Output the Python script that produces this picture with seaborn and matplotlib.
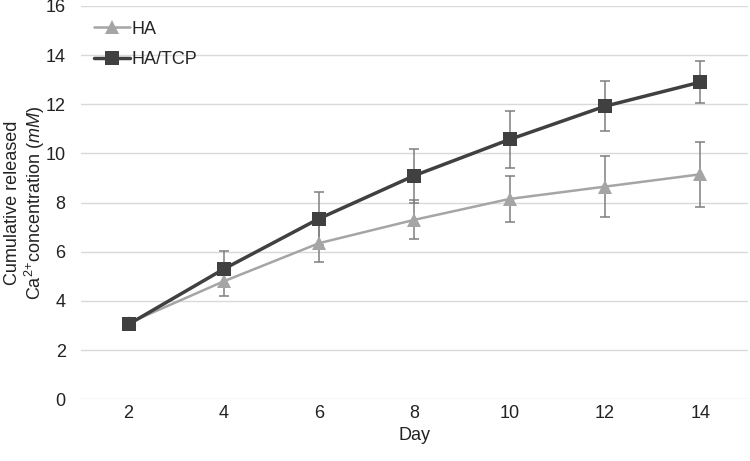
import matplotlib
matplotlib.use("Agg")
import matplotlib.pyplot as plt
import seaborn as sns
import pandas as pd
import numpy as np
from matplotlib.colors import to_hex

# values
days = [2, 4, 6, 8, 10, 12, 14]
ha_mean = [3.1, 4.8, 6.35, 7.3, 8.15, 8.65, 9.15]
ha_err = [0.1, 0.6, 0.75, 0.8, 0.95, 1.23, 1.33]
tcp_mean = [3.05, 5.3, 7.35, 9.1, 10.57, 11.92, 12.9]
tcp_err = [0.1, 0.72, 1.08, 1.1, 1.17, 1.02, 0.85]
y_ticks = [0, 2, 4, 6, 8, 10, 12, 14, 16]

sns.set_theme(style="white")
plt.rcParams['font.family'] = ['Liberation Sans', 'DejaVu Sans']
plt.rcParams['mathtext.fontset'] = 'custom'
plt.rcParams['mathtext.rm'] = 'Liberation Sans'
plt.rcParams['mathtext.it'] = 'Liberation Sans:italic'

colors = {'HA': '#a5a5a5', 'HA/TCP': '#404040'}
widths = {'HA': 1.8, 'HA/TCP': 2.5}

pos = np.arange(len(days))
df = pd.DataFrame({
    'pos': np.concatenate([pos, pos]),
    'value': ha_mean + tcp_mean,
    'group': ['HA'] * len(days) + ['HA/TCP'] * len(days),
})

fig = plt.figure(figsize=(7.5, 4.61), dpi=100)
ax = fig.add_axes([0.108, 0.134, 0.889, 0.853])

# error bars first so markers sit on top
ax.errorbar(pos, ha_mean, yerr=ha_err, fmt='none', ecolor='#7f7f7f',
            elinewidth=1.1, capsize=3.5, capthick=1.1, zorder=2)
ax.errorbar(pos, tcp_mean, yerr=tcp_err, fmt='none', ecolor='#7f7f7f',
            elinewidth=1.1, capsize=3.5, capthick=1.1, zorder=2)

sns.lineplot(data=df, x='pos', y='value', hue='group', style='group',
             palette=colors, markers={'HA': '^', 'HA/TCP': 's'}, dashes=False,
             markersize=9.5, markeredgewidth=0, ax=ax, zorder=3)

for line in ax.lines:
    c = to_hex(line.get_color())
    for g, col in colors.items():
        if c == col:
            line.set_linewidth(widths[g])

ax.set_xlim(-0.5, 6.5)
ax.set_ylim(0, 16)
ax.set_xticks(pos)
ax.set_xticklabels([str(d) for d in days])
ax.set_yticks(y_ticks)
ax.tick_params(axis='both', labelsize=13, colors='#222222', length=0)
ax.tick_params(axis='x', pad=4)
ax.tick_params(axis='y', pad=11)
ax.yaxis.grid(True, color='#d9d9d9', linewidth=1)
ax.xaxis.grid(False)
for s in ax.spines.values():
    s.set_visible(False)

ax.set_xlabel('Day', fontsize=13, color='#222222', labelpad=4)
ax.set_ylabel('Cumulative released\nCa$^{2{+}}$concentration ($\\it{mM}$)',
              fontsize=13, color='#222222', labelpad=-1, linespacing=1.1)

handles, labels = ax.get_legend_handles_labels()
for h, l in zip(handles, labels):
    h.set_linewidth(widths[l])
ax.legend(handles, labels, loc='upper left', bbox_to_anchor=(0.0, 0.995),
          frameon=False, fontsize=13, handlelength=2.0, handletextpad=0.1,
          labelspacing=0.75, borderaxespad=0.3)

fig.savefig('out.png', dpi=100)
